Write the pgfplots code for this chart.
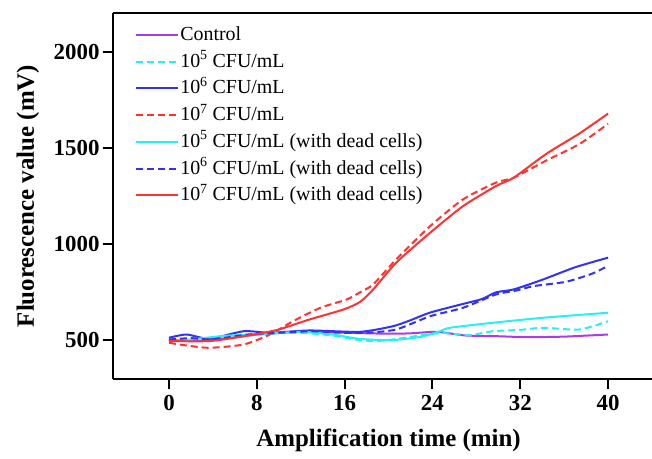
\documentclass[border=0pt]{standalone}
\usepackage{fontspec}
\setmainfont{Liberation Serif}
\usepackage{pgfplots}
\pgfplotsset{compat=1.18}
\definecolor{cpurple}{RGB}{170,60,230}
\definecolor{ccyan}{RGB}{40,240,240}
\definecolor{cblue}{RGB}{50,50,240}
\definecolor{cred}{RGB}{255,50,50}

\begin{document}
\begin{tikzpicture}
\path[use as bounding box] (-113bp,-80bp) rectangle (539bp,379bp);
\clip (-113bp,-80bp) rectangle (539bp,379bp);
\begin{axis}[
    at={(0,0)}, anchor=south west,
    scale only axis,
    width=539bp, height=366bp,
    xmin=-5.1, xmax=44,
    ymin=300, ymax=2200,
    axis x line=box, axis y line=left,
    axis line style={-, line width=2.5bp, black},
    xtick={0,8,16,24,32,40},
    ytick={500,1000,1500,2000},
    xtick pos=bottom, ytick pos=left,
    tick align=outside,
    major tick length=10bp,
    tick style={line width=2bp, black},
    /pgf/number format/assume math mode=true,
    /pgf/number format/1000 sep={},
    ticklabel style={font=\fontsize{23}{23}\selectfont\bfseries},
    xticklabel style={yshift=-3bp},
    xlabel={Amplification time (min)},
    ylabel={Fluorescence value (mV)},
    every axis x label/.style={at={(axis cs:20,300)}, anchor=center, yshift=-61bp, font=\fontsize{25}{25}\selectfont\bfseries},
    every axis y label/.style={at={(axis description cs:-0.158,0.5)}, rotate=90, anchor=center, font=\fontsize{25}{25}\selectfont\bfseries},
    legend cell align=left,
    legend style={at={(axis description cs:0.041,0.969)}, anchor=north west, draw=none, fill=none,
        font=\fontsize{20}{22}\selectfont, row sep=5.7bp, inner sep=0pt,
        nodes={inner sep=1bp, text height=15bp, text depth=4bp}},
    legend image code/.code={\draw[#1] (0bp,0bp) -- (26bp,0bp); \path (0bp,0bp) -- (42bp,0bp);},
    every axis plot/.append style={line width=2bp, smooth, tension=0.4},
]
% Control
\addplot[cpurple] coordinates {
(0,505) (2,497) (5,509) (8,530) (12,545) (16,540) (20,535) (22,537) (24.4,545) (27,526) (30,522) (32.6,517) (36,520) (40,531)
};
\addlegendentry{Control}
% 10^5 live
\addplot[ccyan, dash pattern=on 7bp off 4bp] coordinates {
(0,500) (3,510) (6,520) (9,535) (12,540) (15,525) (17,505) (18.9,497) (21,510) (23.5,531) (25,538) (27.4,528) (29.5,548) (32,555) (34.1,566) (37.4,557) (40,600)
};
\addlegendentry{10\textsuperscript{5} CFU/mL}
% 10^6 live
\addplot[cblue] coordinates {
(0,514) (1.6,531) (3.7,509) (6.8,548) (9.2,540) (12.8,552) (17.4,545) (20.4,574) (22,605) (23.8,645) (26.8,690) (28.5,715) (29.8,750) (31.4,765) (34,815) (37,880) (40,930)
};
\addlegendentry{10\textsuperscript{6} CFU/mL}
% 10^7 live
\addplot[cred, dash pattern=on 7bp off 4bp] coordinates {
(0,488) (1.6,474) (3.7,462) (6.8,479) (9.2,531) (11.3,600) (13.8,670) (16.2,713) (17.4,750) (18.6,791) (20.7,921) (23.8,1094) (26.8,1233) (29.8,1320) (31.4,1345) (34.4,1435) (37.4,1520) (40,1625)
};
\addlegendentry{10\textsuperscript{7} CFU/mL}
% 10^5 with dead cells
\addplot[ccyan] coordinates {
(0,497) (2,505) (5,524) (8,532) (12,545) (15,530) (17.4,508) (20.4,502) (23,520) (24.7,548) (25.6,566) (29.5,592) (34.1,618) (40,644)
};
\addlegendentry{10\textsuperscript{5} CFU/mL (with dead cells)}
% 10^6 with dead cells
\addplot[cblue, dash pattern=on 7bp off 4bp] coordinates {
(0,505) (2,512) (4,505) (7,530) (10,540) (13,548) (16,540) (18,540) (20.7,557) (23.8,626) (26.8,670) (29.8,739) (31.7,760) (33.2,782) (36.2,805) (38.6,848) (40,888)
};
\addlegendentry{10\textsuperscript{6} CFU/mL (with dead cells)}
% 10^7 with dead cells
\addplot[cred] coordinates {
(0,497) (3.7,497) (6.8,522) (9.8,554) (12.8,609) (15.9,661) (17.4,700) (18.6,765) (20.7,904) (23.8,1060) (26.8,1198) (29.8,1302) (31.4,1345) (34.4,1470) (37.4,1575) (40,1678)
};
\addlegendentry{10\textsuperscript{7} CFU/mL (with dead cells)}
\end{axis}
\end{tikzpicture}
\end{document}
